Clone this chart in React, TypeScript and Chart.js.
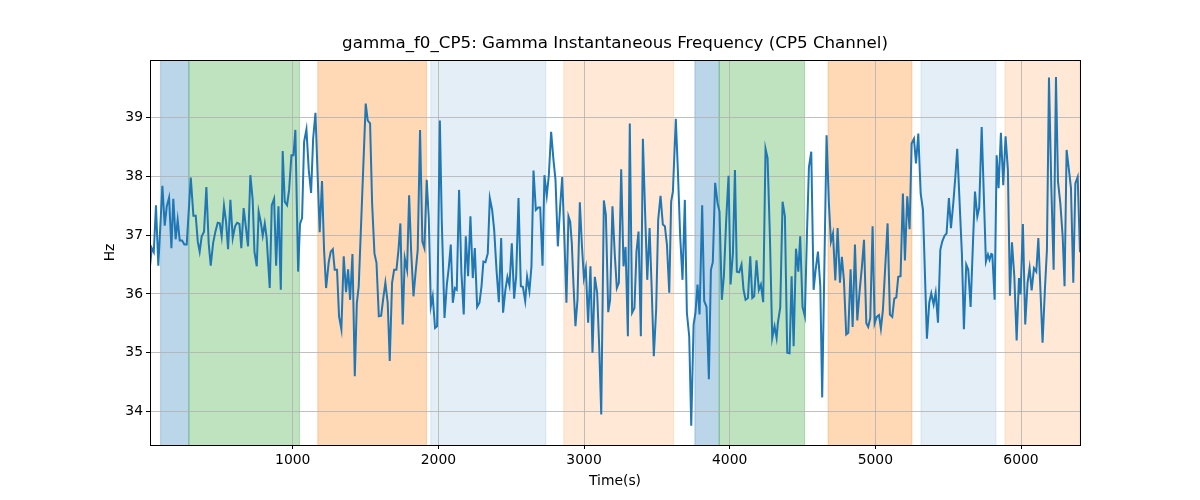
import React, { useEffect, useRef } from "react";
import { Chart, registerables } from "chart.js";

Chart.register(...registerables);

// time (s) of each sample
const times = [
  20, 32, 46, 61, 77, 105, 121, 135, 151, 167, 180, 196, 210, 224, 240, 256, 272, 300, 318, 334,
  348, 361, 375, 391, 407, 423, 437, 453, 469, 485, 499, 512, 528, 542, 556, 572, 588, 604, 618, 634,
  647, 663, 679, 693, 709, 725,
  737, 753, 766, 780, 794, 808, 821, 842, 856, 872, 886, 902, 918, 931, 945, 961, 975, 991, 1005, 1018,
  1037, 1050, 1064, 1078, 1094, 1110, 1126, 1140, 1156, 1172, 1185, 1201, 1215, 1229, 1247, 1261, 1275, 1288, 1304, 1318,
  1334, 1350, 1366, 1380, 1394, 1410, 1426, 1440,
  1453, 1501, 1515, 1531, 1545, 1561, 1575, 1591, 1607, 1620, 1636, 1652, 1666, 1682, 1696, 1712, 1726, 1739, 1755, 1769,
  1785, 1799, 1813, 1829, 1842, 1858, 1874, 1890, 1904, 1920, 1934, 1948, 1961, 1977, 1991, 2010, 2023, 2042, 2058, 2071,
  2085, 2099, 2113, 2126, 2142, 2158,
  2174, 2188, 2204, 2220, 2236, 2250, 2266, 2282, 2296, 2309, 2323, 2339, 2353, 2369, 2383, 2399, 2415, 2431, 2444, 2460,
  2474, 2488, 2504, 2520, 2534, 2550, 2566, 2580, 2596, 2609, 2625, 2639, 2653, 2669, 2685, 2699, 2715, 2728, 2744, 2758,
  2774, 2790, 2804, 2820, 2836, 2850, 2866, 2879,
  2893, 2905, 2916, 2928, 2941, 2955, 2971, 2985, 2999, 3012, 3028, 3044, 3058, 3074, 3090, 3104, 3118, 3136, 3150, 3166,
  3179, 3195, 3211, 3225, 3239, 3255, 3271, 3285, 3301, 3314, 3330, 3346, 3360, 3374, 3390, 3404, 3420, 3434, 3450, 3463,
  3479, 3495, 3509, 3525, 3541, 3555, 3569, 3585, 3598, 3610,
  3630, 3644, 3660, 3676, 3692, 3706, 3722, 3736, 3752, 3765, 3779, 3793, 3811, 3825, 3841, 3857, 3871, 3884, 3900, 3917,
  3930, 3946, 3960, 3976, 3992, 4006, 4022, 4036, 4049, 4065, 4081, 4095, 4109, 4125, 4141, 4155, 4168, 4184, 4200, 4214,
  4230, 4246, 4260, 4276, 4292, 4308, 4322, 4331,
  4347, 4363, 4379, 4395, 4411, 4425, 4439, 4455, 4471, 4484, 4500, 4516, 4530, 4544, 4560, 4576, 4590, 4606, 4622, 4635,
  4665, 4681, 4695, 4709, 4725, 4741, 4757, 4770, 4784, 4800, 4814, 4830, 4844, 4860, 4876, 4892, 4908, 4922, 4938, 4951,
  4965, 4981, 4995, 5009, 5025, 5038, 5052,
  5084, 5100, 5116, 5130, 5144, 5157, 5173, 5189, 5203, 5219, 5235, 5249, 5265, 5279, 5295, 5311, 5327, 5354, 5370, 5384,
  5400, 5414, 5430, 5446, 5459, 5475, 5489, 5505, 5519, 5535, 5549, 5562, 5594, 5608, 5624, 5638, 5654, 5670, 5684, 5700,
  5713, 5730, 5759, 5773,
  5784, 5796, 5803, 5819, 5833, 5846, 5862, 5878, 5894, 5910, 5924, 5938, 5954, 5970, 5986, 5997, 6013, 6029, 6045, 6059,
  6073, 6089, 6105, 6119, 6135, 6148, 6164, 6178, 6192, 6208, 6224, 6240, 6254, 6270, 6286, 6299, 6313, 6329, 6343, 6359,
  6373, 6389, 6405,
];

// instantaneous frequency (Hz)
const hz = [
  36.47, 36.78, 36.71, 37.51, 36.48, 37.84, 37.16, 37.49, 37.64, 36.78, 37.62, 36.93, 37.26, 36.91, 36.91, 36.84, 36.84, 37.98, 37.33, 37.33,
  36.89, 36.72, 36.98, 37.06, 37.82, 36.86, 36.48, 36.86, 37.06, 37.21, 37.2, 36.98, 37.5, 37.23, 36.76, 37.6, 36.95, 37.15, 37.21, 37.19,
  36.78, 37.46, 37.12, 36.81, 38.02, 37.6,
  36.72, 36.47, 37.4, 37.23, 36.99, 37.2, 36.95, 36.1, 37.51, 37.62, 36.48, 37.49, 36.07, 38.43, 37.57, 37.51, 37.77, 38.36, 38.36, 38.79,
  36.38, 37.19, 37.29, 38.59, 38.8, 38.11, 37.72, 38.64, 39.08, 37.94, 37.05, 37.92, 36.75, 36.1, 36.54, 36.72, 36.76, 36.41, 36.41, 35.62,
  35.4, 36.64, 36.03, 36.42, 35.9, 36.68, 34.6, 35.84,
  36.13, 39.24, 38.95, 38.9, 37.54, 36.69, 36.53, 35.62, 35.63, 35.9, 36.19, 35.85, 34.86, 36.19, 36.41, 36.41, 36.75, 37.2, 35.48, 36.61,
  36.41, 37.68, 36.72, 35.96, 36.33, 36.75, 38.79, 36.89, 36.78, 37.94, 37.29, 35.79, 35.96, 35.42, 35.45, 38.95, 37.26, 35.59, 36.16, 36.44,
  36.84, 35.85, 36.1, 36.07, 37.77, 36.36,
  35.65, 36.98, 36.3, 37.32, 36.27, 36.78, 35.78, 35.85, 36.13, 36.55, 36.54, 36.69, 37.63, 37.43, 37.09, 36.41, 35.86, 36.95, 35.68, 36.07,
  36.29, 36.14, 36.86, 35.92, 36.3, 37.63, 36.13, 36.12, 35.88, 36.29, 36.05, 36.47, 38.1, 37.43, 37.47, 37.47, 36.48, 38.02, 37.67, 38.01,
  38.76, 38.28, 37.94, 36.81, 37.49, 37.99, 36.86, 35.85,
  37.32, 37.23, 36.86, 36.13, 35.45, 35.9, 37.56, 36.84, 36.27, 36.44, 35.51, 36.47, 35.0, 36.29, 36.02, 35.11, 33.95, 37.59, 37.34, 35.69,
  35.9, 37.49, 36.67, 36.1, 36.19, 38.12, 36.47, 36.8, 35.28, 38.9, 35.68, 35.76, 36.72, 37.06, 35.28, 38.64, 37.32, 36.24, 37.12, 36.19,
  34.94, 35.73, 37.26, 37.67, 37.18, 37.15, 36.84, 36.02, 37.57, 37.74,
  38.98, 38.11, 36.98, 36.24, 37.6, 35.68, 35.28, 33.76, 35.48, 35.68, 36.16, 35.65, 37.51, 35.88, 35.78, 34.55, 36.41, 36.54, 37.89, 37.54,
  37.4, 35.9, 36.3, 37.26, 38.01, 36.16, 36.69, 38.11, 36.38, 36.37, 36.5, 36.07, 35.9, 35.93, 36.64, 35.93, 35.96, 36.57, 36.07, 36.16,
  35.86, 38.47, 38.31, 36.98, 35.25, 35.45, 35.25, 35.51,
  35.77, 37.57, 37.32, 35.0, 34.99, 36.3, 35.11, 36.77, 36.38, 36.98, 35.78, 35.62, 36.98, 38.16, 38.42, 36.07, 36.41, 36.72, 36.13, 34.24,
  38.7, 37.54, 36.89, 37.03, 36.23, 37.12, 36.19, 36.63, 36.24, 35.31, 35.34, 36.42, 35.44, 36.84, 35.55, 36.05, 36.47, 36.92, 35.5, 35.44,
  35.59, 37.15, 35.5, 35.61, 35.64, 35.41, 35.73,
  37.2, 35.65, 35.61, 35.92, 35.94, 36.29, 36.3, 37.71, 36.57, 37.66, 37.1, 38.56, 38.64, 38.22, 38.73, 37.71, 37.43, 35.24, 35.85, 36.01,
  35.82, 36.02, 35.51, 36.75, 36.89, 36.99, 37.03, 37.63, 37.12, 37.54, 37.99, 38.47, 36.69, 35.4, 36.5, 36.41, 35.78, 36.86, 37.74, 37.32,
  37.47, 38.84, 36.55, 36.67,
  36.58, 36.68, 36.67, 35.9, 38.36, 37.8, 38.74, 37.85, 38.68, 38.11, 35.97, 36.88, 36.3, 35.21, 36.27, 35.99, 37.19, 35.48, 36.19, 36.44,
  36.06, 36.44, 36.38, 36.95, 35.96, 35.17, 36.07, 36.75, 39.68, 37.82, 36.41, 39.69, 37.91, 37.54, 36.98, 36.13, 38.45, 38.11, 37.8, 36.19,
  37.88, 37.99, 36.71,
];

// shaded segments (start, end, kind)
const bandStarts = [93, 287, 1172, 1948, 2861, 3761, 3928, 4675, 5313, 5890];
const bandEnds = [287, 1046, 1918, 2738, 3615, 3928, 4514, 5251, 5828, 6405];
const bandKinds = ["blue", "green", "orange", "pale blue", "pale orange", "blue", "green", "orange", "pale blue", "pale orange"];

const bandColors: Record<string, string> = {
  blue: "rgba(31, 119, 180, 0.3)",
  green: "rgba(44, 160, 44, 0.3)",
  orange: "rgba(255, 127, 14, 0.3)",
  "pale blue": "rgba(31, 119, 180, 0.12)",
  "pale orange": "rgba(255, 127, 14, 0.17)",
};

const xTicks = [1000, 2000, 3000, 4000, 5000, 6000];
const yTicks = [34, 35, 36, 37, 38, 39];

const titleText = "gamma_f0_CP5: Gamma Instantaneous Frequency (CP5 Channel)";
const FONT = "'DejaVu Sans', sans-serif";

const decorPlugin = {
  id: "decor",
  beforeDraw(chart: any) {
    const { ctx, chartArea: a, scales } = chart;
    ctx.save();
    ctx.fillStyle = "#fff";
    ctx.fillRect(0, 0, chart.width, chart.height);
    bandStarts.forEach((s, i) => {
      const x0 = Math.max(scales.x.getPixelForValue(s), a.left);
      const x1 = Math.min(scales.x.getPixelForValue(bandEnds[i]), a.right);
      const c = bandColors[bandKinds[i]];
      ctx.fillStyle = c;
      ctx.fillRect(x0, a.top, x1 - x0, a.bottom - a.top);
      ctx.strokeStyle = c;
      ctx.lineWidth = 1;
      ctx.beginPath();
      ctx.moveTo(x0, a.top);
      ctx.lineTo(x0, a.bottom);
      ctx.moveTo(x1, a.top);
      ctx.lineTo(x1, a.bottom);
      ctx.stroke();
    });
    ctx.restore();
  },
  afterDraw(chart: any) {
    const { ctx, chartArea: a } = chart;
    ctx.save();
    ctx.strokeStyle = "#000";
    ctx.lineWidth = 1;
    ctx.strokeRect(Math.round(a.left) + 0.5, Math.round(a.top) + 0.5, Math.round(a.right - a.left), Math.round(a.bottom - a.top));
    ctx.fillStyle = "#000";
    ctx.textAlign = "center";
    ctx.textBaseline = "alphabetic";
    ctx.font = `16.7px ${FONT}`;
    ctx.fillText(titleText, (a.left + a.right) / 2, 48);
    ctx.font = `13.9px ${FONT}`;
    ctx.textBaseline = "middle";
    ctx.fillText("Time(s)", (a.left + a.right) / 2, 481);
    ctx.translate(110, (a.top + a.bottom) / 2);
    ctx.rotate(-Math.PI / 2);
    ctx.fillText("Hz", 0, 0);
    ctx.restore();
  },
};

const App: React.FC = () => {
  const canvas = useRef<HTMLCanvasElement>(null);
  const chart = useRef<Chart>();

  useEffect(() => {
    chart.current = new Chart(canvas.current!.getContext("2d")!, {
      type: "line",
      data: {
        datasets: [
          {
            data: times.map((t, i) => ({ x: t, y: hz[i] })),
            borderColor: "#1f77b4",
            borderWidth: 2,
            pointRadius: 0,
            tension: 0,
            fill: false,
          },
        ],
      },
      options: {
        responsive: false,
        animation: false,
        devicePixelRatio: 1,
        layout: { padding: { left: 0, right: 120, top: 60, bottom: 0 } },
        plugins: {
          legend: { display: false },
          tooltip: { enabled: false },
          title: { display: false },
        },
        scales: {
          x: {
            type: "linear",
            min: 20,
            max: 6405,
            afterBuildTicks: (scale: any) => {
              scale.ticks = xTicks.map(v => ({ value: v }));
            },
            afterFit: (scale: any) => {
              scale.height = 55;
            },
            grid: { color: "#b0b0b0", lineWidth: 0.8, tickColor: "#000", tickLength: 4, tickWidth: 1 },
            border: { display: false },
            ticks: {
              color: "#000",
              font: { family: FONT, size: 13.9 },
              padding: 3,
              maxRotation: 0,
              autoSkip: false,
              callback: (v: any) => String(v),
            },
          },
          y: {
            min: 33.43,
            max: 39.98,
            afterBuildTicks: (scale: any) => {
              scale.ticks = yTicks.map(v => ({ value: v }));
            },
            afterFit: (scale: any) => {
              scale.width = 150;
            },
            grid: { color: "#b0b0b0", lineWidth: 0.8, tickColor: "#000", tickLength: 4, tickWidth: 1 },
            border: { display: false },
            ticks: {
              color: "#000",
              font: { family: FONT, size: 13.9 },
              padding: 3,
              autoSkip: false,
              callback: (v: any) => String(v),
            },
          },
        },
      },
      plugins: [decorPlugin],
    });

    return () => {
      chart.current?.destroy();
    };
  }, []);

  return (
    <div style={{ position: "absolute", left: 0, top: 0, width: 1200, height: 500 }}>
      <canvas ref={canvas} width={1200} height={500} style={{ width: 1200, height: 500 }}></canvas>
    </div>
  );
};

export default App;
